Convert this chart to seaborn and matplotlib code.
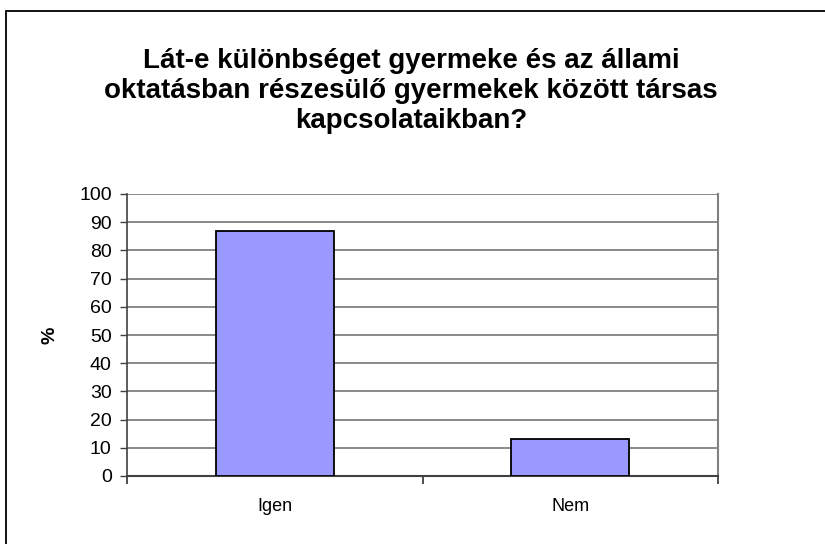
import matplotlib

matplotlib.use("Agg")

import matplotlib.pyplot as plt
import pandas as pd
import seaborn as sns
from matplotlib.patches import Rectangle

CATEGORIES = ["Igen", "Nem"]
VALUES = [87, 13]
TITLE = ("Lát-e különbséget gyermeke és az állami\n"
         "oktatásban részesülő gyermekek között társas\n"
         "kapcsolataikban?")

sns.set_theme(style="white")
plt.rcParams["font.family"] = ["Liberation Sans", "DejaVu Sans"]
plt.rcParams["text.color"] = "black"

df = pd.DataFrame({"cat": CATEGORIES, "val": VALUES})

fig = plt.figure(figsize=(8.25, 5.44), dpi=100)
ax = fig.add_axes([127 / 825, 1 - 476 / 544, 591 / 825, 282 / 544])

sns.barplot(data=df, x="cat", y="val", color="#9999ff", width=0.4,
            edgecolor="black", linewidth=1.3, saturation=1, ax=ax, zorder=3)

ax.set_ylim(0, 100)
ax.set_xlim(-0.5, 1.5)
ax.set_yticks(range(0, 101, 10))
ax.yaxis.grid(True, color="#808080", linewidth=1.3, zorder=0)
ax.set_axisbelow(True)

ax.spines["top"].set_visible(False)
ax.spines["right"].set_color("#808080")
ax.spines["right"].set_linewidth(1.5)
ax.spines["left"].set_color("#404040")
ax.spines["bottom"].set_color("#404040")
ax.spines["left"].set_linewidth(1.2)
ax.spines["bottom"].set_linewidth(1.5)

ax.tick_params(axis="y", which="major", left=True, length=5, width=1,
               color="#404040", labelsize=14, pad=6, labelcolor="black")
ax.set_xticks([0, 1])
ax.set_xticklabels(CATEGORIES)
ax.set_xticks([-0.5, 0.5, 1.5], minor=True)
ax.tick_params(axis="x", which="major", bottom=False, labelsize=13, pad=10,
               labelcolor="black")
ax.tick_params(axis="x", which="minor", bottom=True, length=6, width=1.3,
               color="#404040")

ax.set_xlabel("")
ax.set_ylabel("%", fontsize=14, fontweight="bold", labelpad=15, color="black")

fig.text(0.498, 1 - 91 / 544, TITLE, ha="center", va="center", color="black",
         fontsize=20, fontweight="bold", linespacing=1.2)

fig.patches.append(Rectangle((6 / 825, -0.1), 1.2, 1 - 11 / 544 + 0.1,
                             transform=fig.transFigure, fill=False,
                             edgecolor="black", linewidth=1.3))

fig.savefig("out.png", dpi=100)
